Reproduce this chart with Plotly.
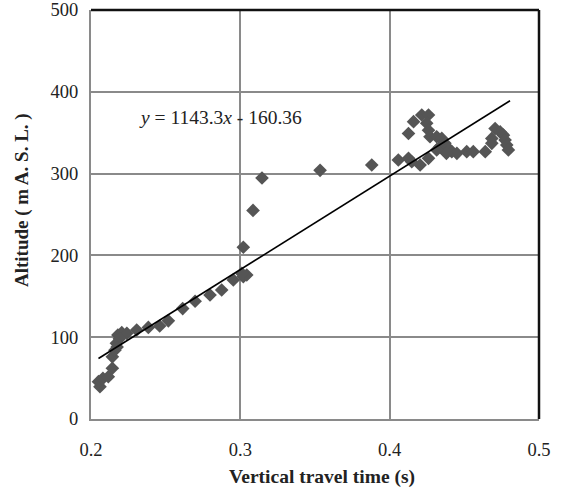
import plotly.graph_objects as go

# Data
travel_time = [0.206, 0.205, 0.208, 0.2116, 0.2143, 0.2143, 0.216, 0.217, 0.218, 0.2206,
               0.224, 0.2306, 0.2384, 0.246, 0.2518, 0.2614, 0.2697, 0.2797, 0.2875, 0.2953,
               0.302, 0.3043, 0.301, 0.302, 0.3085, 0.3145, 0.3534, 0.388,
               0.4058, 0.4126, 0.4148, 0.4204, 0.426, 0.4126, 0.416, 0.4215, 0.426, 0.4248,
               0.426, 0.427, 0.4315, 0.4349, 0.437, 0.4338, 0.436, 0.4393, 0.4416, 0.445,
               0.438, 0.4516, 0.456, 0.464, 0.4684, 0.4706, 0.474, 0.4762, 0.4773, 0.4784,
               0.4795, 0.4684, 0.4315, 0.219, 0.2175]
altitude = [39.5, 45.6, 49.7, 51.7, 62, 76, 84, 92.5, 102.7, 105.5,
            104.7, 108.8, 112, 113.7, 120, 135, 144, 151.6, 157.7, 170,
            174, 176, 178, 210, 255, 294.6, 304, 310.5,
            316.6, 318.7, 314.5, 310.5, 318.7, 349, 363.5, 371.6, 371.6, 361.5,
            353, 345, 345, 343, 337, 333, 329, 331, 326.8, 324.8,
            324.8, 326.8, 326.8, 326.8, 343, 355, 351, 347, 341, 335,
            329, 337, 329, 98, 88]

slope = 1143.3
intercept = -160.36
fit_x = [min(travel_time), max(travel_time) + 0.0011]
fit_y = [slope * v + intercept for v in fit_x]

x_ticks = [0.2, 0.3, 0.4, 0.5]
x_ticktext = ["0.2", "0.3", "0.4", "0.5"]
y_ticks = [0, 100, 200, 300, 400, 500]

x_title = "<b>Vertical travel time (s)</b>"
y_title = "<b>Altitude ( m A. S. L. )</b>"
equation = "<i>y</i> = 1143.3<i>x</i> - 160.36"

serif = "Liberation Serif, Times New Roman, serif"
grid_col = "#8a8a8a"
text_col = "#222222"

fig = go.Figure()
fig.add_trace(go.Scatter(
    x=travel_time, y=altitude, mode="markers",
    marker=dict(symbol="diamond", size=10.5, color="#555555"),
    showlegend=False, cliponaxis=False))
fig.add_trace(go.Scatter(
    x=fit_x, y=fit_y, mode="lines",
    line=dict(color="#000000", width=1.6),
    showlegend=False))

fig.update_layout(
    width=562, height=491,
    margin=dict(l=91, r=23, t=10, b=72, autoexpand=False),
    paper_bgcolor="white", plot_bgcolor="white",
    font=dict(family=serif, color=text_col, size=18),
    xaxis=dict(range=[0.2, 0.5], tickvals=x_ticks, ticktext=x_ticktext,
               automargin=False,
               showgrid=True, gridcolor=grid_col, gridwidth=2,
               showline=True, linecolor=grid_col, linewidth=2,
               zeroline=False, ticks="", ticklen=0, ticklabelstandoff=13,
               tickfont=dict(family=serif, size=18.5, color=text_col)),
    yaxis=dict(range=[0, 500], tickvals=y_ticks,
               automargin=False,
               showgrid=True, gridcolor=grid_col, gridwidth=2,
               showline=True, linecolor=grid_col, linewidth=2,
               zeroline=False, ticks="", ticklen=0, ticklabelstandoff=7,
               tickfont=dict(family=serif, size=18.5, color=text_col)),
    shapes=[
        dict(type="line", xref="paper", yref="paper", x0=0, x1=1, y0=1, y1=1,
             line=dict(color="#111111", width=2.5)),
        dict(type="line", xref="paper", yref="paper", x0=1, x1=1, y0=0, y1=1,
             line=dict(color="#111111", width=2.5)),
    ],
    annotations=[
        dict(x=0.2305, y=369, xref="x", yref="y", xanchor="left", yanchor="middle",
             text=equation, showarrow=False,
             font=dict(family=serif, size=19.5, color=text_col)),
        dict(x=0.5156, y=-0.1418, xref="paper", yref="paper",
             xanchor="center", yanchor="middle", text=x_title, showarrow=False,
             font=dict(family=serif, size=19.5, color=text_col)),
        dict(x=-0.154, y=0.5355, xref="paper", yref="paper", textangle=-90,
             xanchor="center", yanchor="middle", text=y_title, showarrow=False,
             font=dict(family=serif, size=19, color=text_col)),
    ],
)

fig.write_html("out.html", config={"displayModeBar": False})

# remove the browser's default page margin so the figure sits at (0, 0)
with open("out.html", "r", encoding="utf-8") as f:
    html = f.read()
html = html.replace("<head>", "<head><style>html,body{margin:0;padding:0;overflow:hidden;}</style>", 1)
with open("out.html", "w", encoding="utf-8") as f:
    f.write(html)
